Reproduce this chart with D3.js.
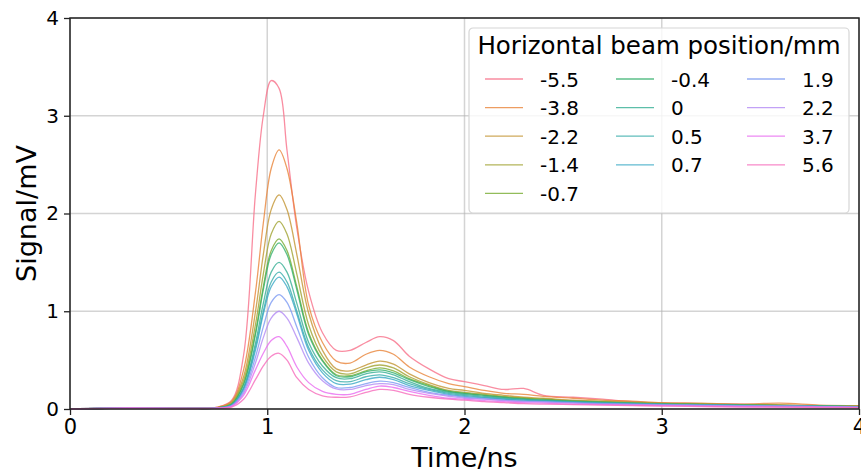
<!DOCTYPE html>
<html>
    <head>
        <script type="text/javascript" src="https://cdn.jsdelivr.net/npm/d3@7"></script>
        <style type="text/css">
            body { margin: 0; background: #fff; }
            text { font-family: "DejaVu Sans", sans-serif; fill: #000; }
        </style>
    </head>
    <body>
        <script type="text/javascript">

            // time axis (ns) shared by every trace
            var time = [0, 0.3, 0.6, 0.75, 0.82, 0.88, 0.94, 0.98, 1.02, 1.06, 1.1, 1.15, 1.21, 1.28, 1.35, 1.42, 1.5, 1.57, 1.64, 1.72,
                        1.82, 1.92, 2.0, 2.1, 2.2, 2.3, 2.4, 2.55, 2.7, 2.85, 3.0, 3.2, 3.4, 3.6, 3.8, 4.0];

            // horizontal beam positions (legend labels)
            var positions = ["-5.5", "-3.8", "-2.2", "-1.4", "-0.7", "-0.4", "0", "0.5", "0.7", "1.9", "2.2", "3.7", "5.6"];

            // signal traces in mV, one per beam position
            var sigM55 = [0.0, 0.01, 0.008, 0.02, 0.09, 0.55, 2.2, 3.0, 3.36, 3.28, 2.65, 1.85, 1.2, 0.78, 0.6, 0.6, 0.68, 0.74, 0.7, 0.54,
                          0.41, 0.31, 0.28, 0.24, 0.2, 0.21, 0.14, 0.12, 0.1, 0.075, 0.06, 0.055, 0.05, 0.04, 0.035, 0.03];
            var sigM38 = [0.0, 0.01, 0.006, 0.02, 0.08, 0.4, 1.19, 1.9, 2.46, 2.65, 2.46, 1.9, 1.06, 0.68, 0.49, 0.47, 0.56, 0.6, 0.56, 0.43,
                          0.33, 0.26, 0.23, 0.19, 0.16, 0.15, 0.13, 0.11, 0.09, 0.08, 0.065, 0.06, 0.05, 0.06, 0.04, 0.035];
            var sigM22 = [0.0, 0.008, 0.006, 0.015, 0.07, 0.33, 0.99, 1.58, 2.04, 2.19, 2.04, 1.58, 0.98, 0.6, 0.41, 0.39, 0.45, 0.49, 0.46, 0.36,
                          0.27, 0.21, 0.19, 0.16, 0.14, 0.12, 0.11, 0.09, 0.08, 0.07, 0.06, 0.05, 0.045, 0.04, 0.035, 0.03];
            var sigM14 = [0.0, 0.008, 0.006, 0.015, 0.06, 0.29, 0.86, 1.38, 1.79, 1.92, 1.79, 1.38, 0.86, 0.54, 0.38, 0.36, 0.42, 0.45, 0.42, 0.33,
                          0.25, 0.19, 0.17, 0.15, 0.13, 0.11, 0.1, 0.085, 0.075, 0.065, 0.055, 0.05, 0.045, 0.04, 0.03, 0.03];
            var sigM07 = [0.0, 0.008, 0.006, 0.012, 0.05, 0.26, 0.78, 1.25, 1.62, 1.74, 1.62, 1.25, 0.78, 0.5, 0.35, 0.34, 0.39, 0.42, 0.39, 0.31,
                          0.24, 0.18, 0.16, 0.14, 0.12, 0.11, 0.1, 0.08, 0.07, 0.06, 0.055, 0.05, 0.04, 0.04, 0.03, 0.025];
            var sigM04 = [0.0, 0.008, 0.006, 0.012, 0.05, 0.25, 0.76, 1.22, 1.58, 1.7, 1.58, 1.22, 0.76, 0.49, 0.34, 0.33, 0.38, 0.4, 0.37, 0.3,
                          0.23, 0.18, 0.16, 0.14, 0.12, 0.1, 0.09, 0.08, 0.07, 0.06, 0.05, 0.045, 0.04, 0.035, 0.03, 0.025];
            var sig00 = [0.0, 0.008, 0.006, 0.012, 0.04, 0.22, 0.67, 1.08, 1.4, 1.5, 1.4, 1.08, 0.68, 0.44, 0.32, 0.31, 0.36, 0.38, 0.35, 0.28,
                         0.21, 0.17, 0.15, 0.13, 0.11, 0.1, 0.09, 0.075, 0.065, 0.06, 0.05, 0.045, 0.04, 0.035, 0.03, 0.025];
            var sigP05 = [0.0, 0.01, 0.006, 0.012, 0.04, 0.21, 0.63, 1.0, 1.3, 1.4, 1.3, 1.0, 0.63, 0.4, 0.29, 0.28, 0.33, 0.35, 0.32, 0.26,
                          0.2, 0.16, 0.14, 0.12, 0.1, 0.09, 0.085, 0.07, 0.06, 0.055, 0.05, 0.04, 0.035, 0.03, 0.03, 0.02];
            var sigP07 = [0.0, 0.01, 0.006, 0.012, 0.04, 0.2, 0.6, 0.97, 1.25, 1.35, 1.25, 0.97, 0.6, 0.37, 0.26, 0.255, 0.3, 0.325, 0.3, 0.24,
                          0.19, 0.15, 0.13, 0.115, 0.1, 0.09, 0.08, 0.07, 0.06, 0.05, 0.045, 0.04, 0.035, 0.03, 0.025, 0.02];
            var sigP19 = [0.0, 0.012, 0.006, 0.01, 0.035, 0.18, 0.53, 0.84, 1.09, 1.17, 1.09, 0.84, 0.53, 0.32, 0.22, 0.22, 0.26, 0.285, 0.27, 0.22,
                          0.17, 0.14, 0.12, 0.105, 0.09, 0.08, 0.075, 0.065, 0.055, 0.05, 0.045, 0.04, 0.035, 0.03, 0.025, 0.02];
            var sigP22 = [0.0, 0.01, 0.006, 0.01, 0.03, 0.16, 0.47, 0.73, 0.93, 1.0, 0.93, 0.73, 0.47, 0.29, 0.205, 0.2, 0.24, 0.26, 0.25, 0.2,
                          0.16, 0.13, 0.11, 0.1, 0.085, 0.075, 0.07, 0.06, 0.05, 0.045, 0.04, 0.035, 0.03, 0.03, 0.025, 0.02];
            var sigP37 = [0.0, 0.008, 0.005, 0.01, 0.03, 0.14, 0.4, 0.57, 0.7, 0.74, 0.64, 0.43, 0.27, 0.18, 0.15, 0.15, 0.2, 0.235, 0.22, 0.18,
                          0.14, 0.11, 0.1, 0.085, 0.075, 0.065, 0.06, 0.05, 0.045, 0.04, 0.035, 0.03, 0.025, 0.02, 0.02, 0.015];
            var sigP56 = [0.0, 0.008, 0.005, 0.008, 0.02, 0.1, 0.3, 0.44, 0.54, 0.57, 0.5, 0.32, 0.2, 0.135, 0.12, 0.125, 0.17, 0.2, 0.19, 0.15,
                          0.12, 0.1, 0.09, 0.075, 0.065, 0.055, 0.05, 0.045, 0.04, 0.035, 0.03, 0.025, 0.02, 0.02, 0.015, 0.015];

            var signals = [sigM55, sigM38, sigM22, sigM14, sigM07, sigM04, sig00, sigP05, sigP07, sigP19, sigP22, sigP37, sigP56];

            // husl-like palette, one colour per trace
            var colors = ["#f77189", "#e8853a", "#c39532", "#a0a231", "#77ab31", "#33b06b", "#35ae93",
                          "#37acaa", "#39a9c6", "#7c9af2", "#b389f4", "#e86bf0", "#f66bbc"];

            var xTicks = [0, 1, 2, 3, 4];
            var yTicks = [0, 1, 2, 3, 4];

            var w = 861, h = 473;
            var margin = {left: 70, right: 2, top: 18, bottom: 64};

            var svg = d3.select("body").append("svg")
                        .attr("width", w)
                        .attr("height", h);

            var x = d3.scaleLinear().domain([0, 4]).range([margin.left, w - margin.right]);
            var y = d3.scaleLinear().domain([0, 4]).range([h - margin.bottom, margin.top]);

            // grid lines
            svg.append("g").selectAll("line.gx").data(xTicks).enter().append("line")
                .attr("x1", d => x(d)).attr("x2", d => x(d))
                .attr("y1", y(0)).attr("y2", y(4))
                .attr("stroke", "#b0b0b0").attr("stroke-opacity", 0.55).attr("stroke-width", 1.5);
            svg.append("g").selectAll("line.gy").data(yTicks).enter().append("line")
                .attr("x1", x(0)).attr("x2", x(4))
                .attr("y1", d => y(d)).attr("y2", d => y(d))
                .attr("stroke", "#b0b0b0").attr("stroke-opacity", 0.55).attr("stroke-width", 1.5);

            // traces
            var line = d3.line()
                         .x((d, i) => x(time[i]))
                         .y(d => y(d))
                         .curve(d3.curveCatmullRom.alpha(0.5));

            svg.append("g").selectAll("path").data(signals).enter().append("path")
                .attr("d", line)
                .attr("fill", "none")
                .attr("stroke", (d, i) => colors[i])
                .attr("stroke-opacity", 0.8)
                .attr("stroke-width", 1.3);

            // frame
            svg.append("rect")
                .attr("x", x(0)).attr("y", y(4))
                .attr("width", x(4) - x(0)).attr("height", y(0) - y(4))
                .attr("fill", "none").attr("stroke", "#222").attr("stroke-width", 1.5);

            // axes
            var xAxis = svg.append("g")
                .attr("transform", "translate(0," + y(0) + ")")
                .call(d3.axisBottom(x).tickValues(xTicks).tickFormat(d3.format("d")).tickSize(6).tickPadding(4));
            var yAxis = svg.append("g")
                .attr("transform", "translate(" + x(0) + ",0)")
                .call(d3.axisLeft(y).tickValues(yTicks).tickFormat(d3.format("d")).tickSize(6).tickPadding(5));
            xAxis.select(".domain").remove();
            yAxis.select(".domain").remove();
            xAxis.selectAll("line").attr("stroke", "#222").attr("stroke-width", 1.3);
            yAxis.selectAll("line").attr("stroke", "#222").attr("stroke-width", 1.3);
            xAxis.selectAll("text").attr("font-size", 21).attr("font-family", "DejaVu Sans").attr("fill", "#000");
            yAxis.selectAll("text").attr("font-size", 20).attr("font-family", "DejaVu Sans").attr("fill", "#000");

            // axis labels
            svg.append("text")
                .attr("x", (x(0) + x(4)) / 2).attr("y", 467)
                .attr("text-anchor", "middle").attr("font-size", 27)
                .text("Time/ns");
            svg.append("text")
                .attr("transform", "translate(36," + (y(2)) + ") rotate(-90)")
                .attr("text-anchor", "middle").attr("font-size", 27)
                .text("Signal/mV");

            // legend
            var lg = svg.append("g").attr("transform", "translate(469,28)");
            lg.append("rect")
                .attr("width", 380).attr("height", 185).attr("rx", 4)
                .attr("fill", "#fff").attr("fill-opacity", 0.8)
                .attr("stroke", "#d6d6d6").attr("stroke-width", 1.2);
            lg.append("text")
                .attr("x", 190).attr("y", 26)
                .attr("text-anchor", "middle").attr("font-size", 24.5)
                .text("Horizontal beam position/mm");

            var colX = [16, 147, 278];
            var items = lg.selectAll("g.item").data(positions).enter().append("g")
                .attr("transform", function(d, i) {
                    var c = i < 5 ? 0 : (i < 9 ? 1 : 2);
                    var r = i < 5 ? i : (i < 9 ? i - 5 : i - 9);
                    return "translate(" + colX[c] + "," + (51 + r * 28.6) + ")";
                });
            items.append("line")
                .attr("x1", 0).attr("x2", 38).attr("y1", 0).attr("y2", 0)
                .attr("stroke", (d, i) => colors[i])
                .attr("stroke-opacity", 0.8)
                .attr("stroke-width", 1.3);
            items.append("text")
                .attr("x", 55).attr("y", 7.5)
                .attr("font-size", 20)
                .text(d => d);

        </script>
    </body>
</html>
